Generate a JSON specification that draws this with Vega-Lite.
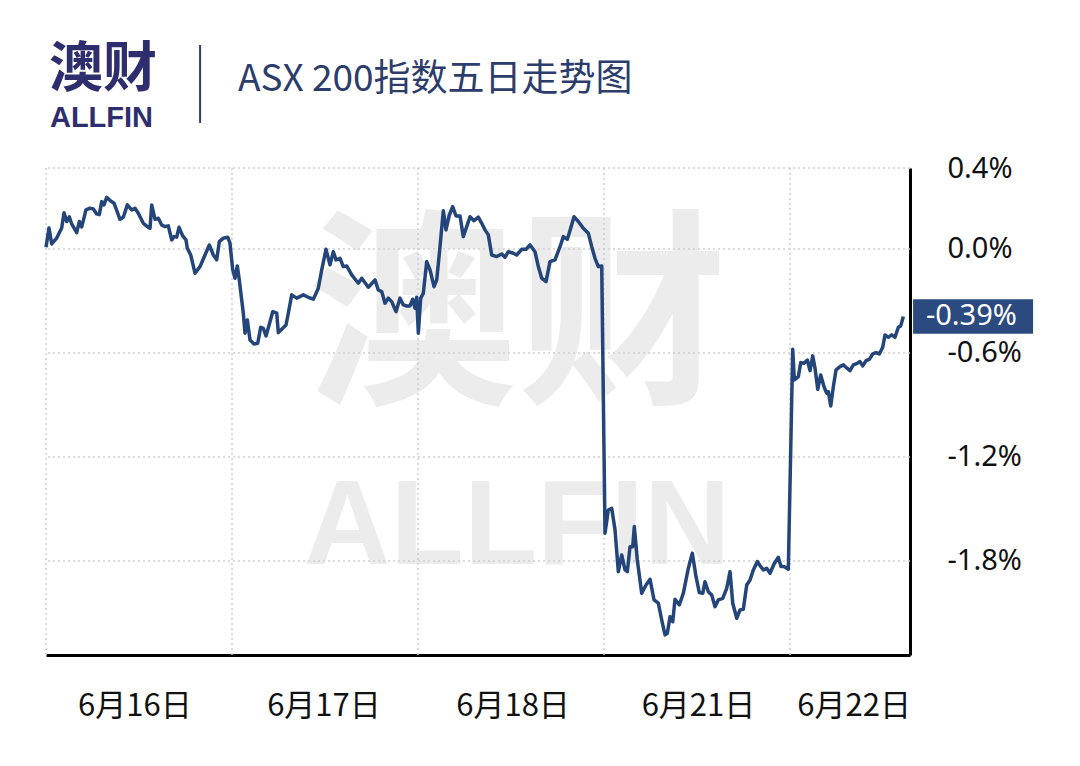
{
  "$schema": "https://vega.github.io/schema/vega-lite/v6.json",
  "width": 864,
  "height": 487,
  "autosize": {"type": "none"},
  "padding": {"left": 46, "top": 168, "right": 170, "bottom": 111},
  "background": "#ffffff",
  "config": {"view": {"stroke": null}},
  "data": {"values": [
    {"t":0,"pct":0.010},{"t":0.097,"pct":0.121},{"t":0.184,"pct":0.029},{"t":0.345,"pct":0.063},{"t":0.506,"pct":0.121},{"t":0.581,"pct":0.209},{"t":0.668,"pct":0.158},{"t":0.752,"pct":0.185},{"t":0.829,"pct":0.144},{"t":0.990,"pct":0.094},{"t":1.074,"pct":0.158},{"t":1.152,"pct":0.127},{"t":1.290,"pct":0.225},{"t":1.419,"pct":0.235},{"t":1.526,"pct":0.231},{"t":1.635,"pct":0.202},{"t":1.719,"pct":0.198},{"t":1.797,"pct":0.273},{"t":1.871,"pct":0.254},{"t":1.958,"pct":0.298},{"t":2.065,"pct":0.279},{"t":2.194,"pct":0.264},{"t":2.387,"pct":0.171},{"t":2.494,"pct":0.183},{"t":2.623,"pct":0.254},{"t":2.765,"pct":0.225},{"t":2.871,"pct":0.235},{"t":2.977,"pct":0.206},{"t":3.139,"pct":0.148},{"t":3.300,"pct":0.125},{"t":3.355,"pct":0.119},{"t":3.410,"pct":0.254},{"t":3.516,"pct":0.171},{"t":3.623,"pct":0.177},{"t":3.732,"pct":0.138},{"t":3.839,"pct":0.129},{"t":3.945,"pct":0.133},{"t":4.055,"pct":0.052},{"t":4.129,"pct":0.071},{"t":4.216,"pct":0.068},{"t":4.290,"pct":0.125},{"t":4.410,"pct":0.075},{"t":4.516,"pct":0.052},{"t":4.558,"pct":0.004},{"t":4.668,"pct":-0.035},{"t":4.806,"pct":-0.140},{"t":4.968,"pct":-0.102},{"t":5.129,"pct":-0.035},{"t":5.268,"pct":0.023},{"t":5.397,"pct":-0.035},{"t":5.506,"pct":-0.063},{"t":5.590,"pct":0.042},{"t":5.719,"pct":0.062},{"t":5.861,"pct":0.068},{"t":5.935,"pct":0.033},
    {"t":6.023,"pct":-0.121},{"t":6.097,"pct":-0.169},{"t":6.171,"pct":-0.098},{"t":6.235,"pct":-0.179},{"t":6.365,"pct":-0.371},{"t":6.419,"pct":-0.486},{"t":6.494,"pct":-0.410},{"t":6.581,"pct":-0.525},{"t":6.710,"pct":-0.548},{"t":6.829,"pct":-0.544},{"t":6.926,"pct":-0.452},{"t":7.010,"pct":-0.458},{"t":7.097,"pct":-0.502},{"t":7.226,"pct":-0.420},{"t":7.313,"pct":-0.362},{"t":7.442,"pct":-0.371},{"t":7.494,"pct":-0.483},{"t":7.603,"pct":-0.463},{"t":7.742,"pct":-0.439},{"t":7.816,"pct":-0.371},{"t":7.926,"pct":-0.265},{"t":8.087,"pct":-0.284},{"t":8.300,"pct":-0.265},{"t":8.461,"pct":-0.279},{"t":8.623,"pct":-0.290},{"t":8.784,"pct":-0.227},{"t":8.894,"pct":-0.121},{"t":9.032,"pct":-0.002},{"t":9.161,"pct":-0.092},{"t":9.268,"pct":-0.016},{"t":9.355,"pct":-0.063},{"t":9.484,"pct":-0.054},{"t":9.590,"pct":-0.102},{"t":9.700,"pct":-0.098},{"t":9.861,"pct":-0.150},{"t":10.074,"pct":-0.198},{"t":10.184,"pct":-0.169},{"t":10.397,"pct":-0.221},{"t":10.613,"pct":-0.179},{"t":10.719,"pct":-0.237},{"t":10.829,"pct":-0.246},{"t":10.935,"pct":-0.313},{"t":11.042,"pct":-0.284},{"t":11.152,"pct":-0.304},{"t":11.290,"pct":-0.362},{"t":11.419,"pct":-0.284},{"t":11.526,"pct":-0.323},{"t":11.635,"pct":-0.329},{"t":11.742,"pct":-0.329},{"t":11.829,"pct":-0.290},{"t":11.903,"pct":-0.342},{"t":11.958,"pct":-0.279},
    {"t":12.010,"pct":-0.486},{"t":12.087,"pct":-0.284},{"t":12.171,"pct":-0.256},{"t":12.281,"pct":-0.073},{"t":12.387,"pct":-0.121},{"t":12.516,"pct":-0.218},{"t":12.603,"pct":-0.179},{"t":12.710,"pct":0.013},{"t":12.816,"pct":0.221},{"t":12.903,"pct":0.110},{"t":13.010,"pct":0.196},{"t":13.119,"pct":0.244},{"t":13.226,"pct":0.190},{"t":13.355,"pct":0.190},{"t":13.461,"pct":0.071},{"t":13.571,"pct":0.129},{"t":13.677,"pct":0.186},{"t":13.806,"pct":0.163},{"t":13.945,"pct":0.183},{"t":14.055,"pct":0.148},{"t":14.161,"pct":0.110},{"t":14.268,"pct":0.081},{"t":14.377,"pct":-0.035},{"t":14.539,"pct":-0.044},{"t":14.700,"pct":-0.029},{"t":14.806,"pct":-0.048},{"t":14.913,"pct":-0.016},{"t":15.074,"pct":-0.025},{"t":15.184,"pct":-0.035},{"t":15.345,"pct":-0.002},{"t":15.484,"pct":-0.002},{"t":15.613,"pct":0.023},{"t":15.774,"pct":-0.016},{"t":15.881,"pct":-0.102},{"t":15.990,"pct":-0.169},{"t":16.129,"pct":-0.189},{"t":16.258,"pct":-0.073},{"t":16.419,"pct":-0.063},{"t":16.581,"pct":0.013},{"t":16.687,"pct":0.071},{"t":16.816,"pct":0.056},{"t":16.903,"pct":0.106},{"t":17.032,"pct":0.186},{"t":17.171,"pct":0.158},{"t":17.332,"pct":0.119},{"t":17.494,"pct":0.091},{"t":17.603,"pct":0.013},{"t":17.710,"pct":-0.054},{"t":17.816,"pct":-0.102},{"t":17.926,"pct":-0.098},
    {"t":18.032,"pct":-1.641},{"t":18.139,"pct":-1.506},{"t":18.248,"pct":-1.496},{"t":18.355,"pct":-1.621},{"t":18.461,"pct":-1.862},{"t":18.571,"pct":-1.766},{"t":18.677,"pct":-1.852},{"t":18.752,"pct":-1.862},{"t":18.839,"pct":-1.718},{"t":18.926,"pct":-1.718},{"t":18.977,"pct":-1.602},{"t":19.074,"pct":-1.795},{"t":19.216,"pct":-1.987},{"t":19.355,"pct":-1.939},{"t":19.484,"pct":-1.906},{"t":19.613,"pct":-2.025},{"t":19.752,"pct":-2.044},{"t":19.861,"pct":-2.141},{"t":19.968,"pct":-2.227},{"t":20.042,"pct":-2.218},{"t":20.129,"pct":-2.122},{"t":20.216,"pct":-2.151},{"t":20.290,"pct":-2.021},{"t":20.429,"pct":-2.054},{"t":20.558,"pct":-1.987},{"t":20.719,"pct":-1.843},{"t":20.848,"pct":-1.756},{"t":20.968,"pct":-1.891},{"t":21.074,"pct":-1.983},{"t":21.184,"pct":-1.987},{"t":21.258,"pct":-1.920},{"t":21.365,"pct":-1.978},{"t":21.474,"pct":-1.997},{"t":21.581,"pct":-2.064},{"t":21.687,"pct":-2.025},{"t":21.829,"pct":-2.016},{"t":21.958,"pct":-1.958},{"t":22.065,"pct":-1.862},{"t":22.152,"pct":-2.044},{"t":22.281,"pct":-2.131},{"t":22.387,"pct":-2.083},{"t":22.494,"pct":-2.079},{"t":22.603,"pct":-1.939},{"t":22.710,"pct":-1.910},{"t":22.816,"pct":-1.852},{"t":22.945,"pct":-1.804},{"t":23.055,"pct":-1.833},{"t":23.139,"pct":-1.852},{"t":23.248,"pct":-1.843},{"t":23.355,"pct":-1.871},{"t":23.484,"pct":-1.818},{"t":23.623,"pct":-1.779},{"t":23.710,"pct":-1.833},{"t":23.806,"pct":-1.833},{"t":23.945,"pct":-1.848},
    {"t":24.087,"pct":-0.579},{"t":24.139,"pct":-0.756},{"t":24.268,"pct":-0.737},{"t":24.345,"pct":-0.656},{"t":24.452,"pct":-0.660},{"t":24.558,"pct":-0.641},{"t":24.645,"pct":-0.702},{"t":24.732,"pct":-0.617},{"t":24.806,"pct":-0.688},{"t":24.894,"pct":-0.810},{"t":24.990,"pct":-0.727},{"t":25.097,"pct":-0.795},{"t":25.184,"pct":-0.833},{"t":25.235,"pct":-0.823},{"t":25.313,"pct":-0.906},{"t":25.397,"pct":-0.795},{"t":25.484,"pct":-0.698},{"t":25.613,"pct":-0.679},{"t":25.719,"pct":-0.669},{"t":25.806,"pct":-0.683},{"t":25.935,"pct":-0.702},{"t":26.042,"pct":-0.669},{"t":26.171,"pct":-0.660},{"t":26.258,"pct":-0.650},{"t":26.345,"pct":-0.675},{"t":26.452,"pct":-0.645},{"t":26.558,"pct":-0.637},{"t":26.668,"pct":-0.606},{"t":26.774,"pct":-0.598},{"t":26.881,"pct":-0.606},{"t":26.990,"pct":-0.567},{"t":27.065,"pct":-0.496},{"t":27.171,"pct":-0.510},{"t":27.281,"pct":-0.496},{"t":27.387,"pct":-0.510},{"t":27.494,"pct":-0.452},{"t":27.571,"pct":-0.444},{"t":27.655,"pct":-0.390}
  ]},
  "layer": [
    {
      "data": {"values": [{"w": "澳财"}]},
      "mark": {"type": "text", "font": "Noto Sans CJK SC", "fontWeight": "bold", "fontSize": 210, "color": "#ececec", "align": "center", "baseline": "middle"},
      "encoding": {
        "text": {"field": "w"},
        "x": {"datum": 15.2, "type": "quantitative"},
        "y": {"datum": -0.44, "type": "quantitative"}
      }
    },
    {
      "data": {"values": [{"w": "ALLFIN"}]},
      "mark": {"type": "text", "font": "Liberation Sans", "fontWeight": "bold", "fontSize": 120, "color": "#ececec", "align": "center", "baseline": "middle"},
      "encoding": {
        "text": {"field": "w"},
        "x": {"datum": 15.2, "type": "quantitative"},
        "y": {"datum": -1.61, "type": "quantitative"}
      }
    },
    {
      "data": {"values": [{"g": 0.467}, {"g": 0}, {"g": -0.6}, {"g": -1.2}, {"g": -1.8}]},
      "mark": {"type": "rule", "color": "#cfcfcf", "strokeWidth": 1.5, "strokeDash": [2, 3]},
      "encoding": {"y": {"field": "g", "type": "quantitative"}}
    },
    {
      "data": {"values": [{"d": 0}, {"d": 6}, {"d": 12}, {"d": 18}, {"d": 24}]},
      "mark": {"type": "rule", "color": "#cfcfcf", "strokeWidth": 1.5, "strokeDash": [2, 3]},
      "encoding": {"x": {"field": "d", "type": "quantitative"}}
    },
    {
      "mark": {"type": "line", "color": "#244579", "strokeWidth": 3.5, "strokeJoin": "round"},
      "encoding": {
        "x": {
          "field": "t", "type": "quantitative",
          "scale": {"domain": [0, 27.87], "nice": false, "zero": false},
          "axis": {
            "title": null, "orient": "bottom", "values": [2.85, 8.95, 15.05, 21.03, 26.05],
            "labelExpr": "datum.value < 5 ? '6月16日' : datum.value < 11 ? '6月17日' : datum.value < 17 ? '6月18日' : datum.value < 23 ? '6月21日' : '6月22日'",
            "ticks": false, "grid": false, "domainColor": "#000000", "domainWidth": 3,
            "labelFont": "Noto Sans CJK SC", "labelFontSize": 31, "labelColor": "#111111",
            "labelPadding": 36, "labelFlush": false, "labelOverlap": false
          }
        },
        "y": {
          "field": "pct", "type": "quantitative",
          "scale": {"domain": [-2.343, 0.467], "nice": false, "zero": false},
          "axis": {
            "title": null, "orient": "right", "values": [0.467, 0, -0.6, -1.2, -1.8],
            "labelExpr": "datum.value > 0.3 ? '0.4%' : datum.value == 0 ? '0.0%' : datum.value < -1.5 ? '-1.8%' : datum.value < -1 ? '-1.2%' : '-0.6%'",
            "ticks": false, "grid": false, "domainColor": "#000000", "domainWidth": 3,
            "labelFont": "Noto Sans", "labelFontSize": 29, "labelColor": "#111111",
            "labelPadding": 37, "labelAlign": "left", "labelBaseline": "middle", "labelFlush": false, "labelOverlap": false
          }
        }
      }
    },
    {
      "data": {"values": [{"last": -0.39}]},
      "mark": {"type": "rect", "color": "#2b4a7f"},
      "encoding": {
        "x": {"datum": 27.97, "type": "quantitative"},
        "x2": {"datum": 31.84},
        "y": {"datum": -0.29, "type": "quantitative"},
        "y2": {"datum": -0.49}
      }
    },
    {
      "data": {"values": [{"last": "-0.39%"}]},
      "mark": {"type": "text", "font": "Noto Sans", "fontSize": 29, "color": "#ffffff", "align": "center", "baseline": "middle"},
      "encoding": {
        "text": {"field": "last"},
        "x": {"datum": 29.85, "type": "quantitative"},
        "y": {"datum": -0.385, "type": "quantitative"}
      }
    },
    {
      "data": {"values": [{"w": "澳财"}]},
      "mark": {"type": "text", "font": "Noto Sans CJK SC", "fontWeight": "bold", "fontSize": 54, "color": "#2e2d6e", "align": "center", "baseline": "middle"},
      "encoding": {
        "text": {"field": "w"},
        "x": {"datum": 1.84, "type": "quantitative"},
        "y": {"datum": 1.027, "type": "quantitative"}
      }
    },
    {
      "data": {"values": [{"w": "ALLFIN"}]},
      "mark": {"type": "text", "font": "Liberation Sans", "fontWeight": "bold", "fontSize": 29, "color": "#2e2d6e", "align": "center", "baseline": "middle"},
      "encoding": {
        "text": {"field": "w"},
        "x": {"datum": 1.79, "type": "quantitative"},
        "y": {"datum": 0.756, "type": "quantitative"}
      }
    },
    {
      "data": {"values": [{"s": 1}]},
      "mark": {"type": "rule", "color": "#2e3f6e", "strokeWidth": 2},
      "encoding": {
        "x": {"datum": 4.97, "type": "quantitative"},
        "y": {"datum": 1.177, "type": "quantitative"},
        "y2": {"datum": 0.727}
      }
    },
    {
      "data": {"values": [{"w": "ASX 200指数五日走势图"}]},
      "mark": {"type": "text", "font": "Noto Sans CJK SC", "fontSize": 37, "color": "#2d3d6b", "align": "left", "baseline": "middle"},
      "encoding": {
        "text": {"field": "w"},
        "x": {"datum": 6.19, "type": "quantitative"},
        "y": {"datum": 0.975, "type": "quantitative"}
      }
    }
  ]
}
